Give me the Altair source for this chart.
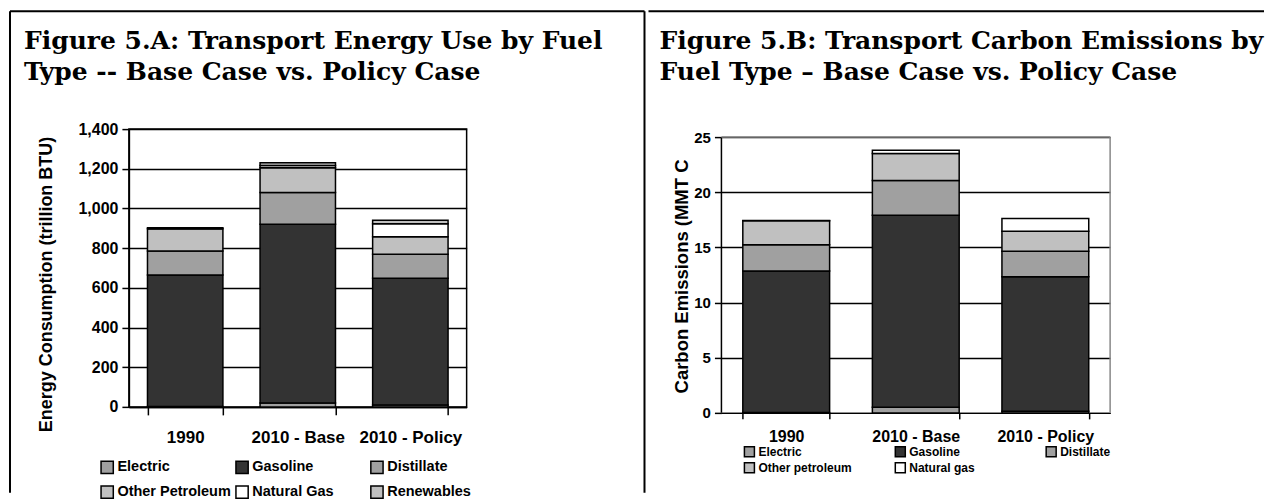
import altair as alt
import pandas as pd

# ---------------- data ----------------
cases = ["1990", "2010 - Base", "2010 - Policy"]

fuels_a = ["Electric", "Gasoline", "Distillate", "Other Petroleum", "Natural Gas", "Renewables"]
colors_a = ["#a0a0a0", "#333333", "#a0a0a0", "#c0c0c0", "#ffffff", "#c0c0c0"]
energy_1990 = [2, 663, 121, 112, 0, 5]
energy_2010_base = [20, 900, 160, 125, 12, 14]
energy_2010_policy = [10, 638, 121, 89, 65, 17]
y_ticks_a = [0, 200, 400, 600, 800, 1000, 1200, 1400]

fuels_b = ["Electric", "Gasoline", "Distillate", "Other petroleum", "Natural gas"]
colors_b = ["#a0a0a0", "#333333", "#a0a0a0", "#c0c0c0", "#ffffff"]
carbon_1990 = [0.03, 12.84, 2.36, 2.18, 0.04]
carbon_2010_base = [0.52, 17.40, 3.15, 2.45, 0.28]
carbon_2010_policy = [0.15, 12.18, 2.33, 1.81, 1.15]
y_ticks_b = [0, 5, 10, 15, 20, 25]

title_a = ["Figure 5.A: Transport Energy Use by Fuel", "Type -- Base Case vs. Policy Case"]
title_b = ["Figure 5.B: Transport Carbon Emissions by", "Fuel Type \u2013 Base Case vs. Policy Case"]
ytitle_a = "Energy Consumption (trillion BTU)"
ytitle_b = "Carbon Emissions (MMT C"

SANS = "Liberation Sans"
SERIF = "DejaVu Serif"

# layout: both plot areas share the same top; panel B's axis max (25) sits lower
H_A, W_A = 278, 338
H_B, W_B = 284, 389
B_AXIS_MAX = 25
B_DOMAIN_TOP = B_AXIS_MAX * H_B / 276


def build(cats, fuels, series):
    rows = []
    for c, vals in zip(cats, series):
        for i, (f, v) in enumerate(zip(fuels, vals)):
            rows.append({"case": c, "fuel": f, "value": v, "order": i})
    return pd.DataFrame(rows)


df_a = build(cases, fuels_a, [energy_1990, energy_2010_base, energy_2010_policy])
df_b = build(cases, fuels_b, [carbon_1990, carbon_2010_base, carbon_2010_policy])
one = pd.DataFrame({"k": [0]})


def rule(color="black", width=2, **enc):
    return alt.Chart(one).mark_rule(color=color, strokeWidth=width).encode(**enc)


def panel(df, fuels, colors, yticks, ydomain, fmt, ytitle, show_domain,
          tick_fs, xlab_fs, xlab_pad, xtick, ytitle_fs, ytitle_x, ytitle_y,
          leg_x, leg_y, leg_fs, leg_sym, leg_colpad, leg_rowpad):
    return alt.Chart(df).mark_bar(stroke="black", strokeWidth=1.5).encode(
        x=alt.X("case:N", sort=cases,
                scale=alt.Scale(paddingInner=0.33, paddingOuter=0.165),
                axis=alt.Axis(title=None, labelAngle=0, tickBand="extent",
                              labelFont=SANS, labelFontSize=xlab_fs, labelFontWeight="bold",
                              labelColor="black", labelPadding=xlab_pad,
                              tickSize=xtick, tickColor="black", tickWidth=1.5,
                              domainColor="black", domainWidth=1.5, grid=False)),
        y=alt.Y("value:Q", stack="zero",
                scale=alt.Scale(domain=ydomain, nice=False),
                axis=alt.Axis(values=yticks, format=fmt, domain=show_domain,
                              labelFont=SANS, labelFontSize=tick_fs, labelFontWeight="bold",
                              labelColor="black", labelPadding=4,
                              tickSize=7, tickColor="black", tickWidth=1.5,
                              domainColor="black", domainWidth=1.5,
                              grid=True, gridColor="black", gridWidth=1.5,
                              title=ytitle, titleFont=SANS, titleFontSize=ytitle_fs,
                              titleFontWeight="bold", titleColor="black",
                              titleX=ytitle_x, titleY=ytitle_y, titleAngle=270,
                              titleAlign="center", titleBaseline="middle")),
        color=alt.Color("fuel:N", sort=fuels,
                        scale=alt.Scale(domain=fuels, range=colors),
                        legend=alt.Legend(title=None, orient="none", legendX=leg_x, legendY=leg_y,
                                          columns=3, direction="horizontal", gridAlign="all",
                                          symbolType="square", symbolSize=leg_sym,
                                          symbolStrokeColor="black", symbolStrokeWidth=1.5,
                                          labelFont=SANS, labelFontSize=leg_fs,
                                          labelFontWeight="bold", labelColor="black",
                                          labelOffset=3, columnPadding=leg_colpad,
                                          rowPadding=leg_rowpad, labelLimit=300)),
        order=alt.Order("order:Q", sort="ascending"),
    )


bars_a = panel(df_a, fuels_a, colors_a, y_ticks_a, [0, 1400], ",d", ytitle_a, True,
               tick_fs=16, xlab_fs=17, xlab_pad=15, xtick=8, ytitle_fs=18,
               ytitle_x=-82, ytitle_y=155, leg_x=-29, leg_y=331, leg_fs=14.5, leg_sym=150,
               leg_colpad=1, leg_rowpad=6)

bars_b = panel(df_b, fuels_b, colors_b, y_ticks_b, [0, B_DOMAIN_TOP], "d", ytitle_b, False,
               tick_fs=15, xlab_fs=16, xlab_pad=10, xtick=6, ytitle_fs=18.5,
               ytitle_x=-40, ytitle_y=147, leg_x=22, leg_y=317, leg_fs=12, leg_sym=100,
               leg_colpad=40, leg_rowpad=0)

left = alt.layer(
    bars_a,
    rule(x=alt.value(-119), x2=alt.value(516), y=alt.value(-118)),
    rule(x=alt.value(-119), y=alt.value(-118), y2=alt.value(364)),
    rule(x=alt.value(516), y=alt.value(-118), y2=alt.value(364)),
).properties(
    width=W_A, height=H_A,
    title=alt.TitleParams(title_a, anchor="start", frame="group", dx=-105, offset=0, dy=75,
                          font=SERIF, fontSize=25, fontWeight="bold", color="black",
                          lineHeight=31),
    view=alt.ViewBackground(stroke="black", strokeWidth=1.5),
)

right = alt.layer(
    bars_b,
    # plot frame of panel B: black value axis, grey top and right edges
    rule(color="black", width=1.5, x=alt.value(0), y=alt.Y(datum=0), y2=alt.Y2(datum=B_AXIS_MAX)),
    rule(color="#888888", width=1.5, x=alt.value(0), x2=alt.value(W_B), y=alt.Y(datum=B_AXIS_MAX)),
    rule(color="#888888", width=1.5, x=alt.value(W_B), y=alt.Y(datum=0), y2=alt.Y2(datum=B_AXIS_MAX)),
    # panel border line on top
    rule(x=alt.value(-73), x2=alt.value(543), y=alt.value(-118)),
).properties(
    width=W_B, height=H_B,
    title=alt.TitleParams(title_b, anchor="start", frame="group", dx=-62, offset=0, dy=75,
                          font=SERIF, fontSize=25, fontWeight="bold", color="black",
                          lineHeight=31),
    view=alt.ViewBackground(stroke="transparent"),
)

chart = alt.hconcat(left, right, spacing=0).resolve_scale(
    color="independent"
).resolve_legend(color="independent").properties(
    padding={"left": 0, "top": 1, "right": 0, "bottom": 0},
    background="white",
)

chart.save("out.html", embed_options={"renderer": "svg", "actions": False})
